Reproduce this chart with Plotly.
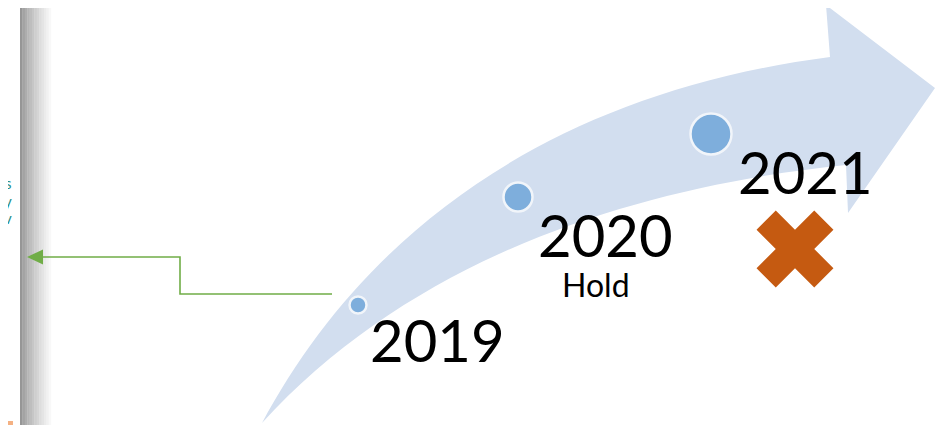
import plotly.graph_objects as go

# ---- data ----
years = ["2019", "2020", "2021"]
dot_x = [358, 518, 711]
dot_y = [305, 197, 134]
dot_size = [17, 29, 41]
label_x = [368, 536, 736]
label_y = [339, 234, 171]
status_text = ["", "Hold", ""]
status_x = [0, 560, 0]
status_y = [0, 282, 0]
cancel_x = [795]
cancel_y = [249]

# page has an 8px body margin: the figure covers screen pixels 8..948 x 8..425
OFF = 8
W, H = 948, 425
fig = go.Figure()

shapes = []
# gray gradient strip at left
n = 14
for i in range(n):
    t = i / (n - 1)
    g = int(150 + (255 - 150) * (t ** 0.8))
    shapes.append(dict(type="rect", x0=20 + i * 2.4, x1=20 + (i + 1) * 2.4 + 0.3, y0=0, y1=H,
                       line=dict(width=0), fillcolor=f"rgb({g},{g},{g})", layer="below"))
# curved arrow
arrow_path = ("M 262,423 C 360,240 540,95 830,57 L 826,5 L 935,88 L 848,213 L 846,165 "
              "C 650,185 420,250 262,423 Z")
shapes.append(dict(type="path", path=arrow_path, fillcolor="#D2DEEF", line=dict(width=0), layer="below"))
# green connector
shapes.append(dict(type="path", path="M 332,294 L 180,294 L 180,257 L 40,257",
                   line=dict(color="#70AD47", width=1.6)))
shapes.append(dict(type="path", path="M 27,257 L 43,249.5 L 43,264.5 Z",
                   fillcolor="#70AD47", line=dict(width=0)))
# small orange fragment bottom-left
shapes.append(dict(type="rect", x0=0, x1=13, y0=421, y1=425, fillcolor="#F4B183", line=dict(width=0)))

fig.add_trace(go.Scatter(
    x=dot_x, y=dot_y, mode="markers",
    marker=dict(size=dot_size, color="#5B9BD5", line=dict(color="white", width=2.5)),
    hoverinfo="skip", showlegend=False))
fig.add_trace(go.Scatter(
    x=cancel_x, y=cancel_y, mode="markers",
    marker=dict(symbol="x", size=68, color="#C55A11", line=dict(width=0)),
    hoverinfo="skip", showlegend=False))

annotations = []
for yr, lx, ly in zip(years, label_x, label_y):
    annotations.append(dict(x=lx, y=ly, text=yr, showarrow=False, xanchor="left", yanchor="middle",
                            font=dict(family="Lato", size=58, color="black")))
for st, sx, sy in zip(status_text, status_x, status_y):
    if st:
        annotations.append(dict(x=sx, y=sy + 2, text=st, showarrow=False, xanchor="left", yanchor="middle",
                                font=dict(family="Lato", size=32, color="black")))
# clipped teal text fragments at left edge
for t, ty in [("s", 183), ("y", 201), ("v", 218)]:
    annotations.append(dict(x=14, y=ty, text=t, showarrow=False, xanchor="right", yanchor="middle",
                            font=dict(family="Lato", size=15, color="#1E8C87")))

fig.update_layout(
    width=W - OFF, height=H - OFF, margin=dict(l=0, r=0, t=0, b=0),
    paper_bgcolor="white", plot_bgcolor="white",
    xaxis=dict(range=[OFF, W], visible=False, fixedrange=True),
    yaxis=dict(range=[H, OFF], visible=False, fixedrange=True),
    shapes=shapes, annotations=annotations,
)
fig.write_html("out.html")
